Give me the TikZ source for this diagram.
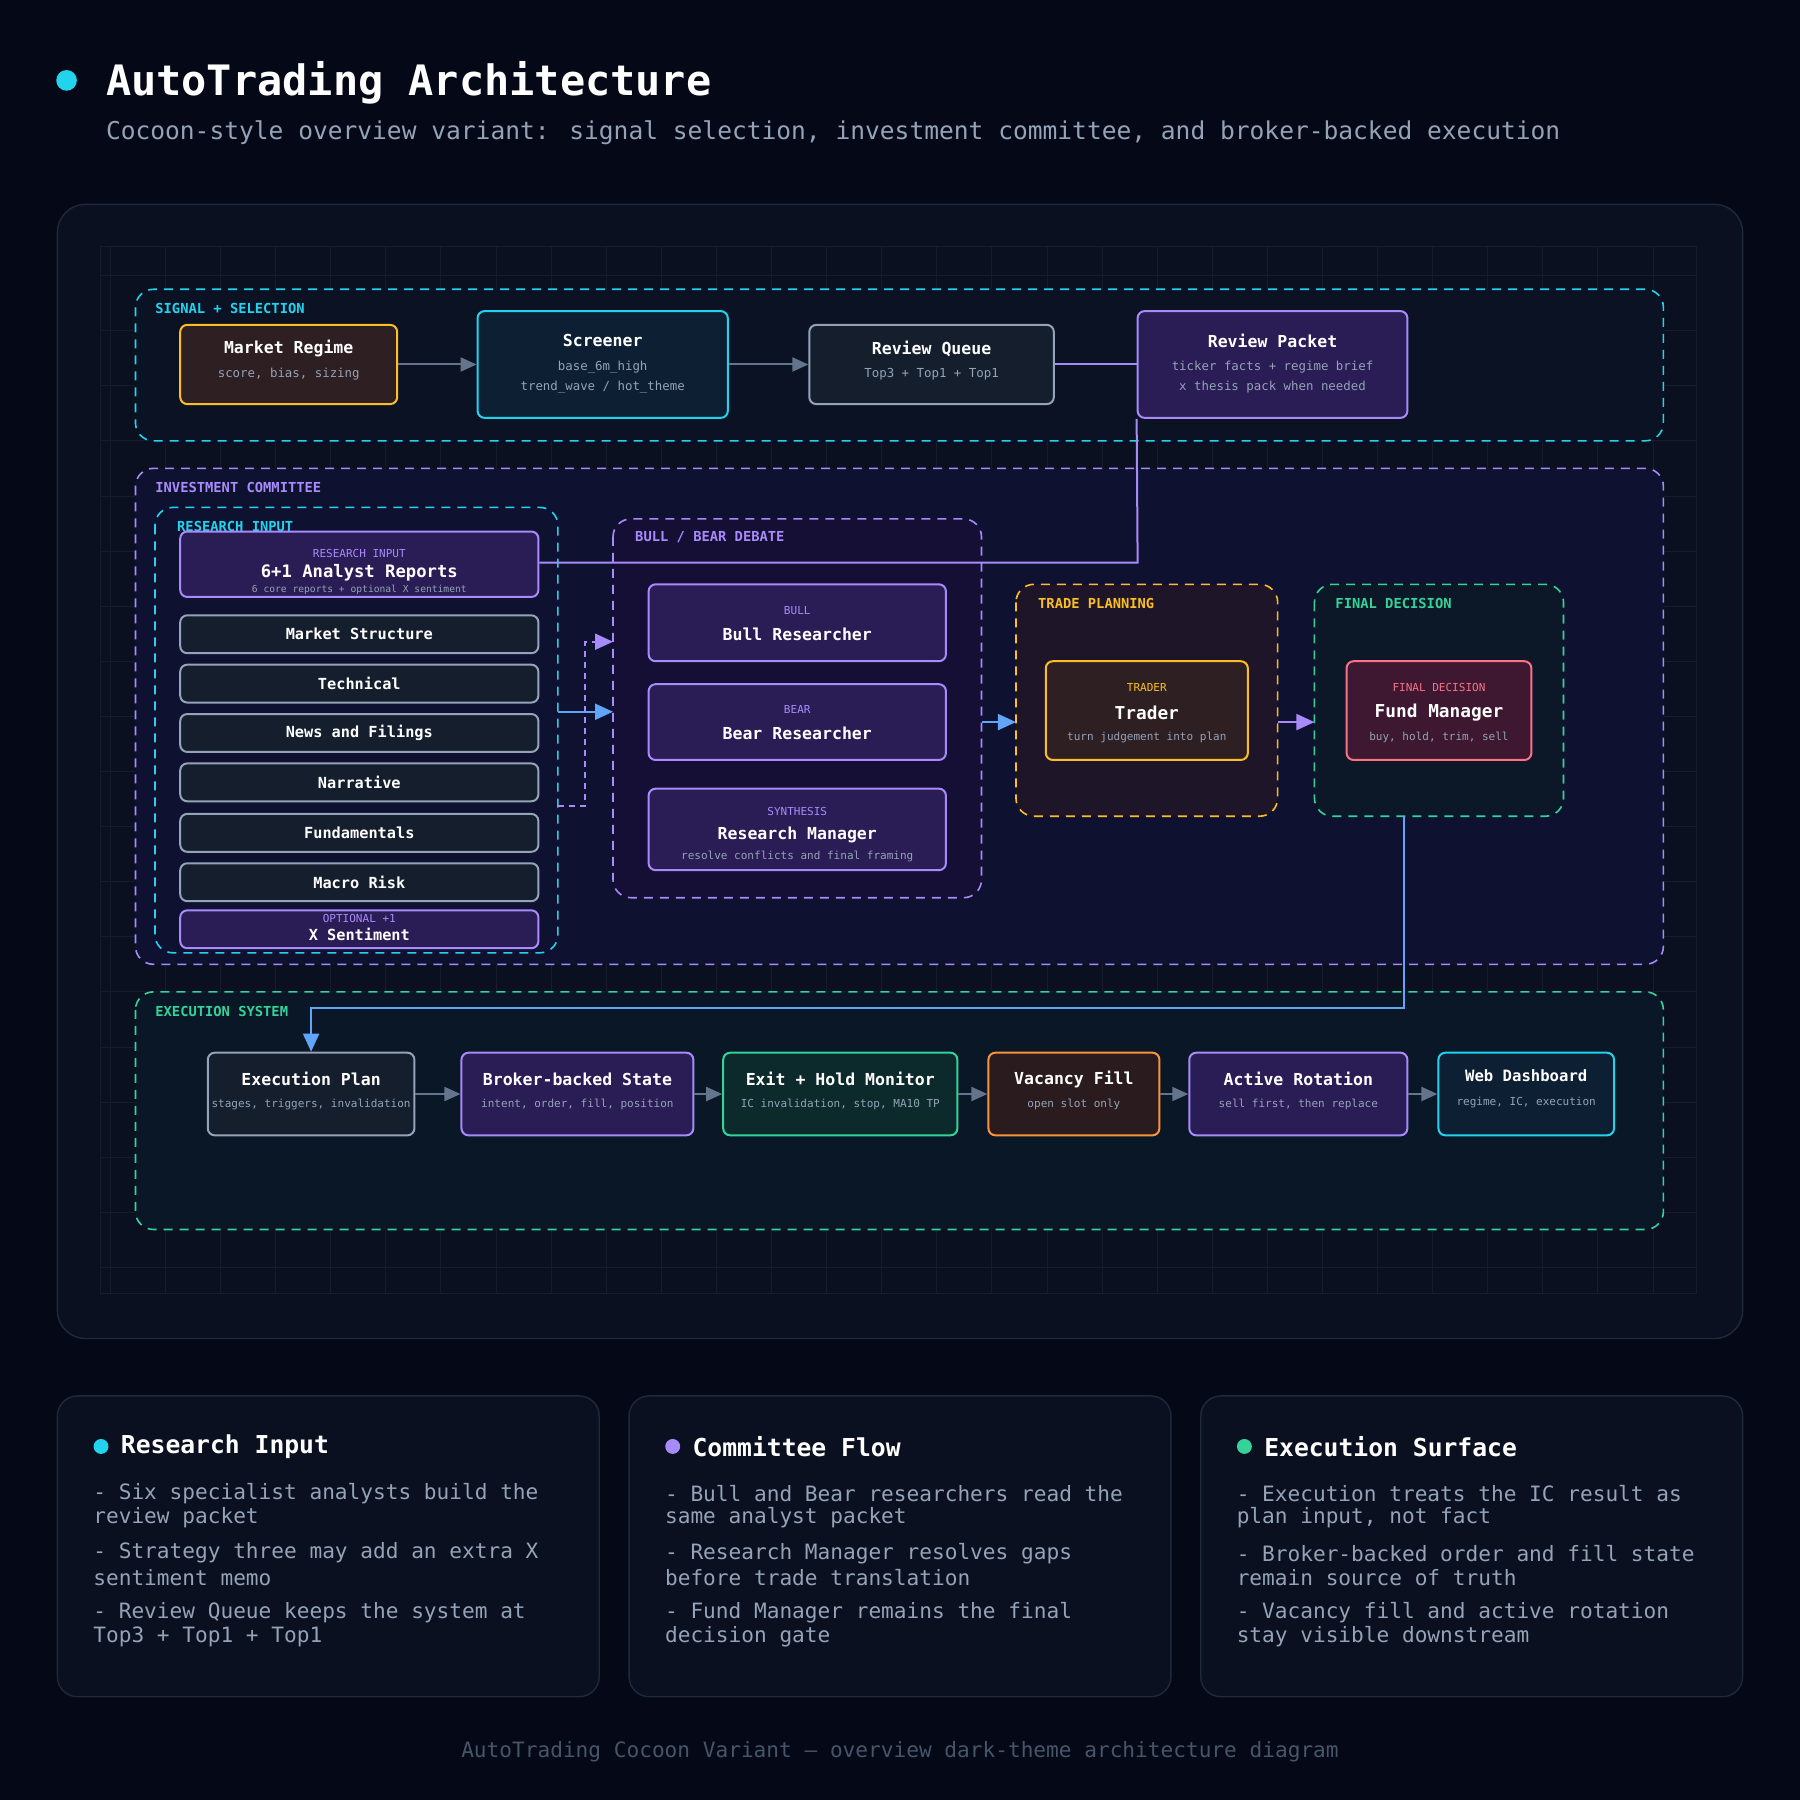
\documentclass[tikz,border=0pt]{standalone}
\usepackage{fontspec}
\setmainfont{DejaVu Sans Mono}
\usetikzlibrary{arrows.meta}
\definecolor{bg}{HTML}{050816}
\definecolor{panel}{HTML}{0A101F}
\definecolor{edge}{HTML}{1E293B}
\definecolor{gridc}{HTML}{141C2E}
\definecolor{cy}{HTML}{22D3EE}
\definecolor{pu}{HTML}{A78BFA}
\definecolor{am}{HTML}{FBBF24}
\definecolor{gr}{HTML}{34D399}
\definecolor{rd}{HTML}{FB7185}
\definecolor{orn}{HTML}{FB923C}
\definecolor{sl}{HTML}{94A3B8}
\definecolor{arr}{HTML}{64748B}
\definecolor{bl}{HTML}{60A5FA}
\definecolor{muted}{HTML}{94A3B8}
\definecolor{foot}{HTML}{475569}
\definecolor{fam}{HTML}{2D1F22}
\definecolor{fcy}{HTML}{0C1F33}
\definecolor{fsl}{HTML}{141E2D}
\definecolor{fpu}{HTML}{2A1C55}
\definecolor{fgr}{HTML}{0C2A2C}
\definecolor{frd}{HTML}{3D1830}
\definecolor{for}{HTML}{2A1C1E}
\definecolor{gcom}{HTML}{0E1230}
\definecolor{gbb}{HTML}{150F35}
\definecolor{gtp}{HTML}{1E1528}
\definecolor{gfd}{HTML}{0C1828}
\definecolor{gex}{HTML}{0A1726}
\definecolor{gsig}{HTML}{0A1224}
\newcommand\FS[1]{\fontsize{\fpeval{(#1)*0.574}pt}{\fpeval{(#1)*0.69}pt}\selectfont}
\newcommand\fT{\FS{14.4}\bfseries}
\newcommand\fLi{\FS{13.3}\bfseries}
\newcommand\fS{\FS{10.8}}
\newcommand\fX{\FS{9.6}}
\newcommand\fXX{\FS{8.4}}
\newcommand\fL{\FS{12}\bfseries}
\newcommand\fC{\FS{18.4}}
\begin{document}
\begin{tikzpicture}[x=0.574pt,y=-0.574pt,
  box/.style 2 args={draw=#1, fill=#2, line width=1pt, rounded corners=3.5pt, inner sep=0pt},
  grp/.style 2 args={draw=#1, fill=#2, line width=0.8pt, dash pattern=on 4.5pt off 3.5pt, rounded corners=9pt},
  t/.style={text=white, inner sep=0pt},
  s/.style={text=muted, inner sep=0pt},
  lab/.style={anchor=west, inner sep=0pt},
  ga/.style={draw=arr, line width=1pt, -{Triangle[length=8pt,width=7pt]}},
  ba/.style={draw=bl, line width=1pt, -{Triangle[length=9pt,width=8pt]}},
  pa/.style={draw=pu, line width=1pt, -{Triangle[length=9pt,width=8pt]}}]
\useasboundingbox (0,0) rectangle (1568,1568);
\fill[bg] (0,0) rectangle (1568,1568);
% header
\fill[cy] (58,70) circle (9);
\node[lab, text=white] (title) at (92,72) {\FS{36.5}\bfseries AutoTrading Architecture};
\node[lab, text=muted] (subtitle) at (92,116) {\FS{21.4}Cocoon-style overview variant: signal selection, investment committee, and broker-backed execution};
% main panel
\draw[fill=panel, draw=edge, line width=0.7pt, rounded corners=14pt] (50,178) rectangle (1518,1166);
\draw[gridc, line width=0.35pt, step=27.55pt] (87,215) grid (1478,1127);
\draw[gridc, line width=0.35pt] (87,215) rectangle (1478,1127);
% signal + selection
\draw[grp={cy}{gsig}] (118,252) rectangle (1449,384);
\node[lab, text=cy] (lsig) at (135,269) {\fL SIGNAL + SELECTION};
\node[box={am}{fam}, minimum width=189*0.574, minimum height=69*0.574] (mr) at (251.5,317.5) {};
\node[t] at (251.5,304) {\fT Market Regime};
\node[s] at (251.5,326) {\fS score, bias, sizing};
\node[box={cy}{fcy}, minimum width=218*0.574, minimum height=93*0.574] (scr) at (525,317.5) {};
\node[t] at (525,297) {\fT Screener};
\node[s] at (525,320) {\fS base\_6m\_high};
\node[s] at (525,337) {\fS trend\_wave / hot\_theme};
\node[box={sl}{fsl}, minimum width=213*0.574, minimum height=69*0.574] (rq) at (811.5,317.5) {};
\node[t] at (811.5,304) {\fT Review Queue};
\node[s] at (811.5,326) {\fS Top3 + Top1 + Top1};
\node[box={pu}{fpu}, minimum width=235*0.574, minimum height=93*0.574] (rp) at (1108.5,317.5) {};
\node[t] at (1108.5,297) {\fT Review Packet};
\node[s] at (1108.5,320) {\fS ticker facts + regime brief};
\node[s] at (1108.5,337) {\fS x thesis pack when needed};
\draw[ga] (mr.east) -- (scr.west);
\draw[ga] (scr.east) -- (rq.west);
\draw[draw=pu, line width=1pt] (rq.east) -- (rp.west);
% committee
\draw[grp={pu}{gcom}] (118,408) rectangle (1449,840);
\node[lab, text=pu] (lcom) at (135,425) {\fL INVESTMENT COMMITTEE};
\draw[grp={cy}{gcom}] (135,442) rectangle (486,830);
\node[lab, text=cy] (lri) at (154,459) {\fL RESEARCH INPUT};
\node[box={pu}{fpu}, minimum width=312*0.574, minimum height=57*0.574] (ar) at (313,491.5) {};
\node[text=pu, inner sep=0pt] at (313,482) {\fX RESEARCH INPUT};
\node[t] at (313,499) {\FS{15}\bfseries 6+1 Analyst Reports};
\node[s] at (313,514) {\fXX 6 core reports + optional X sentiment};
\foreach \n/\yy/\tx in {ms/552.5/Market Structure, te/595.5/Technical, nf/638.5/News and Filings, na/681.5/Narrative, fu/725.5/Fundamentals, mk/768.5/Macro Risk}{
  \node[box={sl}{fsl}, minimum width=312*0.574, minimum height=33*0.574] (\n) at (313,\yy) {};
  \node[t] at (313,\yy) {\fLi \tx};
}
\node[box={pu}{fpu}, minimum width=312*0.574, minimum height=33*0.574] (xs) at (313,809.5) {};
\node[text=pu, inner sep=0pt] at (313,800) {\fX OPTIONAL +1};
\node[t] at (313,814) {\fLi X Sentiment};
% bull/bear
\draw[grp={pu}{gbb}] (534,452) rectangle (855,782);
\node[lab, text=pu] (lbb) at (553,468) {\fL BULL / BEAR DEBATE};
\node[box={pu}{fpu}, minimum width=259*0.574, minimum height=67*0.574] (bull) at (694.5,542.5) {};
\node[text=pu, inner sep=0pt] at (694.5,532) {\fX BULL};
\node[t] at (694.5,553) {\fT Bull Researcher};
\node[box={pu}{fpu}, minimum width=259*0.574, minimum height=66*0.574] (bear) at (694.5,629) {};
\node[text=pu, inner sep=0pt] at (694.5,618) {\fX BEAR};
\node[t] at (694.5,639) {\fT Bear Researcher};
\node[box={pu}{fpu}, minimum width=259*0.574, minimum height=71*0.574] (rm) at (694.5,722.5) {};
\node[text=pu, inner sep=0pt] at (694.5,707) {\fX SYNTHESIS};
\node[t] at (694.5,727) {\fT Research Manager};
\node[s] at (694.5,746) {\fX resolve conflicts and final framing};
\coordinate (riR) at (486,620);
\coordinate (bbL) at (534,620);
\draw[ba] (riR) -- (bbL);
\coordinate (riR2) at (486,702);
\coordinate (bbL2) at (534,559);
\draw[pa, dash pattern=on 3pt off 2.5pt] (riR2) -- (510,702) -- (510,559) -- (bbL2);
% review packet to analyst reports
\draw[draw=pu, line width=1pt] (rp.south west) -- (991,490) -- (ar.east |- 0,490);
% trade planning
\draw[grp={am}{gtp}] (885,509) rectangle (1113,711);
\node[lab, text=am] (ltp) at (904,526) {\fL TRADE PLANNING};
\node[box={am}{fam}, minimum width=176*0.574, minimum height=86*0.574] (tr) at (999,619) {};
\node[text=am, inner sep=0pt] at (999,599) {\fX TRADER};
\node[t] at (999,621) {\FS{15.5}\bfseries Trader};
\node[s] at (999,642) {\fX turn judgement into plan};
\coordinate (bbR) at (855,629);
\coordinate (tpL) at (885,629);
\draw[ba] (bbR) -- (tpL);
% final decision
\draw[grp={gr}{gfd}] (1145,509) rectangle (1362,711);
\node[lab, text=gr] (lfd) at (1163,526) {\fL FINAL DECISION};
\node[box={rd}{frd}, minimum width=161*0.574, minimum height=86*0.574] (fm) at (1253.5,619) {};
\node[text=rd, inner sep=0pt] at (1253.5,599) {\fX FINAL DECISION};
\node[t] at (1253.5,621) {\FS{15.5}\bfseries Fund Manager};
\node[s] at (1253.5,642) {\fX buy, hold, trim, sell};
\coordinate (tpR) at (1113,629);
\coordinate (fdL) at (1145,629);
\draw[pa] (tpR) -- (fdL);
% execution
\draw[grp={gr}{gex}] (118,864) rectangle (1449,1071);
\node[lab, text=gr] (lex) at (135,881) {\fL EXECUTION SYSTEM};
\node[box={sl}{fsl}, minimum width=180*0.574, minimum height=72*0.574] (ep) at (271,953) {};
\node[t] at (271,940) {\fT Execution Plan};
\node[s] at (271,962) {\fX stages, triggers, invalidation};
\node[box={pu}{fpu}, minimum width=202*0.574, minimum height=72*0.574] (bs) at (503,953) {};
\node[t] at (503,940) {\fT Broker-backed State};
\node[s] at (503,962) {\fX intent, order, fill, position};
\node[box={gr}{fgr}, minimum width=204*0.574, minimum height=72*0.574] (eh) at (732,953) {};
\node[t] at (732,940) {\fT Exit + Hold Monitor};
\node[s] at (732,962) {\fX IC invalidation, stop, MA10 TP};
\node[box={orn}{for}, minimum width=149*0.574, minimum height=72*0.574] (vf) at (935.5,953) {};
\node[t] at (935.5,940) {\fT Vacancy Fill};
\node[s] at (935.5,962) {\fX open slot only};
\node[box={pu}{fpu}, minimum width=190*0.574, minimum height=72*0.574] (act) at (1131,953) {};
\node[t] at (1131,940) {\fT Active Rotation};
\node[s] at (1131,962) {\fX sell first, then replace};
\node[box={cy}{fcy}, minimum width=153*0.574, minimum height=72*0.574] (wd) at (1329.5,953) {};
\node[t] at (1329.5,937) {\FS{13.6}\bfseries Web Dashboard};
\node[s] at (1329.5,960) {\fX regime, IC, execution};
\draw[ga] (ep) -- (bs);
\draw[ga] (bs) -- (eh);
\draw[ga] (eh) -- (vf);
\draw[ga] (vf) -- (act);
\draw[ga] (act) -- (wd);
\coordinate (fdB) at (1223,711);
\draw[ba] (fdB) -- (1223,878) -- (271,878) -- (ep.north);
% cards
\foreach \x/\c/\ttl/\la/\lb/\lc/\ld/\le/\lf in {
 50/cy/Research Input/- Six specialist analysts build the/review packet/- Strategy three may add an extra X/sentiment memo/- Review Queue keeps the system at/Top3 + Top1 + Top1,
 548/pu/Committee Flow/- Bull and Bear researchers read the/same analyst packet/- Research Manager resolves gaps/before trade translation/- Fund Manager remains the final/decision gate,
 1046/gr/Execution Surface/- Execution treats the IC result as/plan input{,} not fact/- Broker-backed order and fill state/remain source of truth/- Vacancy fill and active rotation/stay visible downstream}{
  \draw[fill=panel, draw=edge, line width=0.7pt, rounded corners=10pt] (\x,1216) rectangle ++(472,262);
  \fill[\c] (\x+38,1260) circle (6.5);
  \node[lab, text=white] at (\x+55,1260) {\FS{21.5}\bfseries \ttl};
  \node[lab, text=muted] at (\x+31,1301) {\fC \la};
  \node[lab, text=muted] at (\x+31,1322) {\fC \lb};
  \node[lab, text=muted] at (\x+31,1353) {\fC \lc};
  \node[lab, text=muted] at (\x+31,1374) {\fC \ld};
  \node[lab, text=muted] at (\x+31,1405) {\fC \le};
  \node[lab, text=muted] at (\x+31,1426) {\fC \lf};
}
\node[text=foot, inner sep=0pt] (footer) at (784,1526) {\fC AutoTrading Cocoon Variant — overview dark-theme architecture diagram};
\end{tikzpicture}
\end{document}
